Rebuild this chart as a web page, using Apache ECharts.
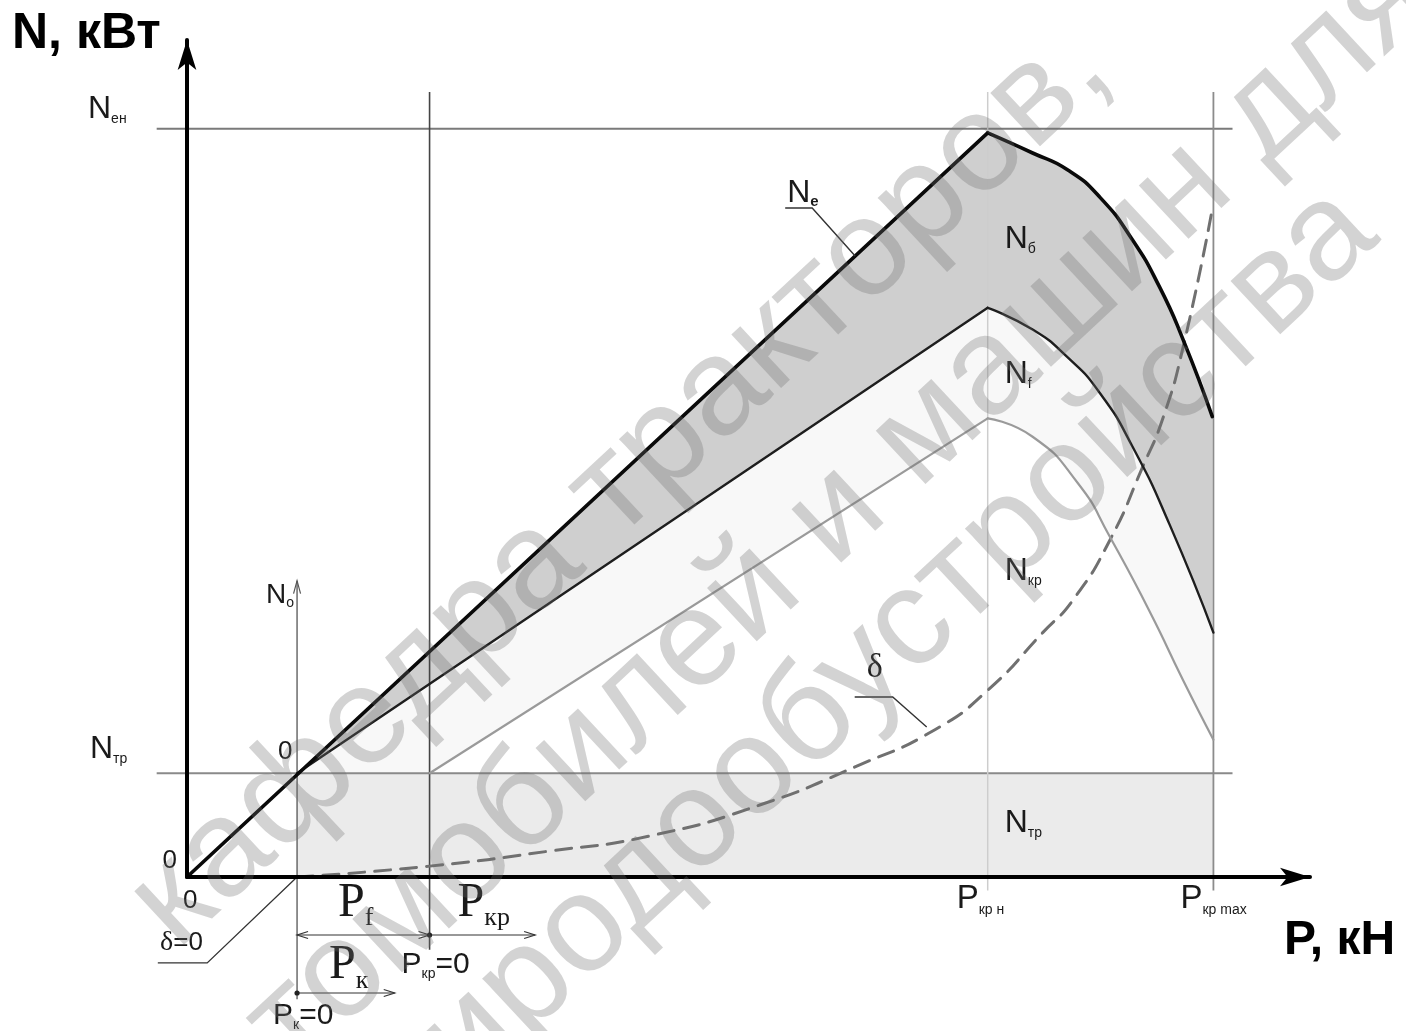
<!DOCTYPE html>
<html><head><meta charset="utf-8">
<script src="https://cdn.jsdelivr.net/npm/echarts@6/dist/echarts.min.js"></script>
<style>html,body{margin:0;padding:0;background:#fff}#c{width:1406px;height:1031px}</style>
</head><body><div id="c"></div>
<script>
// ---- key values (P = pull, N = power; relative units) ----
const P_K0 = 9.8, P_KR0 = 21.6, P_KRN = 71.3, P_KRMAX = 91.4;
const N_TR = 12.4, N_EN = 89.4;
// N_e (engine power)
const neP = [0, 71.3, 75.3, 78.4, 81.3, 84.2, 86.6, 88.7, 91.3];
const neN = [0, 88.9, 86.5, 84.5, 81.2, 76.1, 70.5, 64.2, 55.0];
// N_f
const nfP = [9.8, 71.3, 75.3, 78.4, 81.3, 84.2, 87.5, 91.4];
const nfN = [12.4, 68.0, 65.4, 62.1, 57.8, 51.4, 42.1, 29.2];
// N_кр (drawbar power)
const nkrP = [21.6, 71.3, 75.3, 79.3, 82.2, 85.8, 88.7, 91.4];
const nkrN = [12.4, 54.8, 52.6, 47.1, 40.6, 31.5, 23.5, 16.4];
// δ (slip) curve
const dP = [9.8, 21.6, 32.3, 41.2, 51.0, 59.9, 66.6, 71.3, 76.2, 78.9, 82.2, 85.1, 86.9, 88.7, 91.2];
const dN = [0, 1.3, 3.1, 4.9, 8.6, 13.4, 17.6, 22.3, 29.2, 33.1, 40.3, 49.0, 54.8, 63.3, 79.1];
const watermark = ['кафедра тракторов,', 'автомобилей и машин для', 'природообустройства'];

// ---- styling helpers ----
const SANS = '"Liberation Sans", Arial, Helvetica, sans-serif';
const NARROW = '"Liberation Sans Narrow", "Liberation Sans", Arial, sans-serif';
const SERIF = '"Liberation Serif", "Times New Roman", serif';
const mctx = document.createElement('canvas').getContext('2d');
const fontStr = (size, fam, weight) => (weight || 'normal') + ' ' + size + 'px ' + fam;
const measure = (font, s) => { mctx.font = font; return mctx.measureText(s).width; };
const xy = (P, N) => P.map((p, i) => [p, N[i]]);

const labels = [
  {at: [0, N_EN], dx: -99, dy: -9, parts: [['N', 32, SANS], ['ен', 14, SANS, 'normal', 4]]},
  {at: [0, N_TR], dx: -97, dy: -13, parts: [['N', 32, SANS], ['тр', 14, SANS, 'normal', 4]]},
  {at: [0, 0], dx: -10, dy: -7, align: 'right', parts: [['0', 26, SANS]]},
  {at: [0, 0], dx: -4, dy: 33, parts: [['0', 26, SANS]]},
  {at: [P_K0, N_TR], dx: -19, dy: -13, parts: [['0', 26, SANS]]},
  {at: [P_K0, N_TR], dx: -31, dy: -168, parts: [['N', 28, SANS], ['o', 14, SANS, 'normal', 3]]},
  {at: [P_K0, 0], dx: 41, dy: 43, parts: [['P', 48, SERIF], ['f', 26, SERIF, 'normal', 7]]},
  {at: [P_KR0, 0], dx: 28, dy: 43, parts: [['P', 48, SERIF], ['кр', 26, SERIF, 'normal', 7]]},
  {at: [P_K0, 0], dx: 32, dy: 105, parts: [['P', 48, SERIF], ['к', 26, SERIF, 'normal', 8]]},
  {at: [P_KR0, 0], dx: -28, dy: 98, parts: [['P', 30, NARROW], ['кр', 14, SANS, 'normal', 4], ['=0', 30, NARROW]]},
  {at: [P_K0, 0], dx: -24, dy: 149, parts: [['P', 30, NARROW], ['к', 14, SANS, 'normal', 4], ['=0', 30, NARROW]]},
  {at: [0, 0], dx: -27, dy: 75, parts: [['δ', 28, SERIF], ['=0', 26, SANS]]},
  {at: [P_KRN, 0], dx: -31, dy: 33, parts: [['P', 33, NARROW], ['кр н', 14, SANS, 'normal', 5]]},
  {at: [P_KRMAX, 0], dx: -33, dy: 33, parts: [['P', 33, NARROW], ['кр max', 14, SANS, 'normal', 5]]},
  {at: 'ne', dx: -68, dy: -52, parts: [['N', 32, SANS], ['e', 15, SANS, 'bold', 3]]},
  {at: [P_KRN, N_EN], dx: 17, dy: 121, parts: [['N', 32, SANS], ['б', 14, SANS, 'normal', 4]]},
  {at: [P_KRN, N_EN], dx: 17, dy: 256, parts: [['N', 32, SANS], ['f', 14, SANS, 'normal', 4]]},
  {at: [P_KRN, N_EN], dx: 17, dy: 453, parts: [['N', 32, SANS], ['кр', 14, SANS, 'normal', 4]]},
  {at: [P_KRN, 0], dx: 17, dy: -43, parts: [['N', 32, SANS], ['тр', 14, SANS, 'normal', 4]]},
  {at: [P_KRN, 0], dx: -121, dy: -197, parts: [['δ', 34, SERIF]]}
];
const NE_LEADER_P = 59.5; // where the N_e leader touches the N_e line

function labelEls(api, L, neAnchor) {
  const a = L.at === 'ne' ? neAnchor : api.coord(L.at);
  let x = a[0] + L.dx; const base = a[1] + L.dy;
  const parts = L.parts.map(p => ({text: p[0], font: fontStr(p[1], p[2], p[3]), size: p[1], dy: p[4] || 0}));
  parts.forEach(p => p.w = measure(p.font, p.text));
  if (L.align === 'right') x -= parts.reduce((s, p) => s + p.w, 0);
  return parts.map(p => {
    const el = {type: 'text', style: {x: x, y: base + p.dy - 0.34 * p.size, text: p.text, font: p.font,
      fill: '#1a1a1a', align: 'left', verticalAlign: 'middle'}};
    x += p.w;
    return el;
  });
}

const chart = echarts.init(document.getElementById('c'), null, {renderer: 'canvas'});

const SMOOTH = 0.55;
const areaOnly = (data, color, smooth) => ({
  type: 'line', data: data, smooth: smooth ? SMOOTH : false, symbol: 'none', silent: true, z: 1,
  lineStyle: {width: 0, opacity: 0}, areaStyle: {color: color, opacity: 1}
});
const lineOnly = (data, color, width, smooth, dash) => ({
  type: 'line', data: data, smooth: smooth ? SMOOTH : false, symbol: 'none', silent: true, z: 3,
  lineStyle: {color: color, width: width, type: dash || 'solid', cap: 'round', join: 'round'}
});

const guides = {
  type: 'custom', silent: true, z: 2, clip: false, data: [[0, 0]],
  renderItem: (params, api) => {
    const c = p => api.coord(p);
    const ch = [];
    const pl = (pts, stroke, lw) => ch.push({type: 'polyline', shape: {points: pts.map(c)}, style: {stroke: stroke, lineWidth: lw, fill: null}});
    // band N_тр
    const r0 = c([P_K0, N_TR]), r1 = c([P_KRMAX, 0]);
    ch.push({type: 'rect', shape: {x: r0[0], y: r0[1], width: r1[0] - r0[0], height: r1[1] - r0[1]}, style: {fill: '#ebebeb'}});
    pl([[-2.7, N_EN], [93.1, N_EN]], '#7a7a7a', 2);
    pl([[-2.7, N_TR], [93.1, N_TR]], '#8a8a8a', 2);
    pl([[P_KRN, 93.8], [P_KRN, -1.6]], '#cdcdcd', 1.5);
    pl([[P_KRMAX, 93.8], [P_KRMAX, -1.6]], '#8c8c8c', 1.8);
    pl([[P_KR0, 93.8], [P_KR0, -8.7]], '#444', 1.6);
    pl([[P_K0, 35.4], [P_K0, -14.6]], '#555', 1.3);
    return {type: 'group', children: ch};
  }
};

const annotations = {
  type: 'custom', silent: true, z: 4, clip: false, data: [[0, 0]],
  renderItem: (params, api) => {
    const c = p => api.coord(p);
    const ch = [];
    const plp = (pts, stroke, lw) => ch.push({type: 'polyline', shape: {points: pts}, style: {stroke: stroke, lineWidth: lw, fill: null}});
    const head = (t, dir) => plp([[t[0] - dir * 11, t[1] - 3.5], t, [t[0] - dir * 11, t[1] + 3.5]], '#333', 1.2);
    const dot = t => ch.push({type: 'circle', shape: {cx: t[0], cy: t[1], r: 2.6}, style: {fill: '#222'}});
    // axis arrow of N_o
    const tip = c([P_K0, 35.4]);
    plp([[tip[0] - 3.5, tip[1] + 13], tip, [tip[0] + 3.5, tip[1] + 13]], '#555', 1.2);
    // dimension lines
    const y1 = -6.93, y2 = -13.86;
    const a = c([P_K0, y1]), b = c([P_KR0, y1]), e = c([31.0, y1]);
    plp([a, e], '#333', 1.2); head(a, -1); head(b, 1); head(e, 1); dot(b);
    const a2 = c([P_K0, y2]), e2 = c([18.5, y2]);
    plp([a2, e2], '#333', 1.2); head(e2, 1); dot(a2);
    // leader δ=0
    plp([c([-2.6, -10.27]), c([1.8, -10.27]), c([P_K0, 0])], '#333', 1.3);
    // leader N_e
    const neA = c([NE_LEADER_P, neN[1] * NE_LEADER_P / neP[1]]);
    plp([[neA[0] - 70, neA[1] - 48], [neA[0] - 43, neA[1] - 48], neA], '#333', 1.4);
    // leader δ
    const o = c([P_KRN, 0]);
    plp([[o[0] - 133, o[1] - 180], [o[0] - 95, o[1] - 180], [o[0] - 61, o[1] - 150]], '#333', 1.4);
    labels.forEach(L => labelEls(api, L, neA).forEach(el => ch.push(el)));
    return {type: 'group', children: ch};
  }
};

// watermark
const wmAngle = 43 * Math.PI / 180;
const wmCenters = [[620, 486], [786, 562], [844, 689]];
const wmGraphics = watermark.map((s, i) => ({
  type: 'text', x: wmCenters[i][0], y: wmCenters[i][1], rotation: wmAngle, silent: true, z: 100,
  style: {text: s, font: fontStr(138, SANS), fill: 'rgba(110,110,110,0.3)', align: 'center', verticalAlign: 'middle'}
}));

const axisCommon = {
  type: 'value', min: 0, max: 100, z: 10,
  axisLine: {show: true, onZero: true, lineStyle: {color: '#000', width: 4}, symbol: ['none', 'arrow'], symbolSize: [14, 30]},
  axisTick: {show: false}, axisLabel: {show: false}, splitLine: {show: false}
};

chart.setOption({
  animation: false,
  backgroundColor: '#fff',
  grid: {left: 187, right: 96, top: 40, bottom: 154},
  xAxis: Object.assign({}, axisCommon),
  yAxis: Object.assign({}, axisCommon),
  graphic: [
    {type: 'text', x: 12, y: 34, z: 50, style: {text: 'N, кВт', font: fontStr(50, SANS, 'bold'), fill: '#000', align: 'left', verticalAlign: 'middle'}},
    {type: 'text', x: 1284, y: 941, z: 50, style: {text: 'P, кН', font: fontStr(48, SANS, 'bold'), fill: '#000', align: 'left', verticalAlign: 'middle'}}
  ].concat(wmGraphics),
  series: [
    areaOnly([[nfP[0], nfN[0]], [neP[1], neN[1]]], '#cfcfcf', false),
    areaOnly(xy(neP.slice(1), neN.slice(1)), '#cfcfcf', true),
    areaOnly(xy(nfP.slice(0, 2), nfN.slice(0, 2)), '#f8f8f8', false),
    areaOnly(xy(nfP.slice(1), nfN.slice(1)), '#f8f8f8', true),
    areaOnly(xy(nkrP.slice(0, 2), nkrN.slice(0, 2)), '#ffffff', false),
    areaOnly(xy(nkrP.slice(1), nkrN.slice(1)), '#ffffff', true),
    guides,
    lineOnly(xy(dP, dN), '#707070', 3, true, [16, 10]),
    lineOnly(xy(nkrP.slice(0, 2), nkrN.slice(0, 2)), '#9a9a9a', 2.2, false),
    lineOnly(xy(nkrP.slice(1), nkrN.slice(1)), '#9a9a9a', 2.2, true),
    lineOnly(xy(nfP.slice(0, 2), nfN.slice(0, 2)), '#1e1e1e', 2.4, false),
    lineOnly(xy(nfP.slice(1), nfN.slice(1)), '#1e1e1e', 2.4, true),
    lineOnly(xy(neP.slice(0, 2), neN.slice(0, 2)), '#0a0a0a', 3.6, false),
    lineOnly(xy(neP.slice(1), neN.slice(1)), '#0a0a0a', 3.6, true),
    annotations
  ]
});
</script>
</body></html>
